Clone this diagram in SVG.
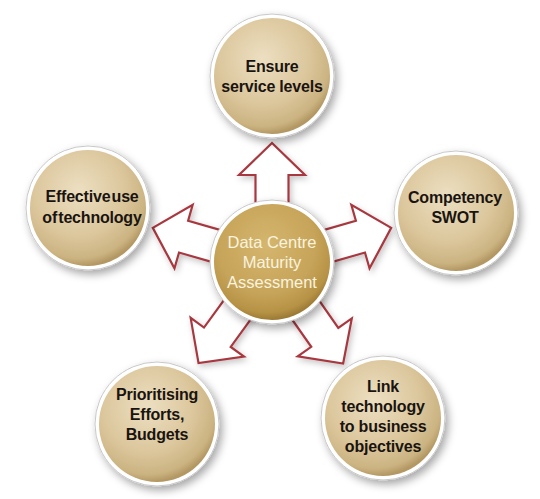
<svg xmlns="http://www.w3.org/2000/svg" width="540" height="499" viewBox="0 0 540 499">
<defs>
<radialGradient id="gOuter" cx="42%" cy="35%" r="65%">
<stop offset="0" stop-color="#ecdfc1"/>
<stop offset="0.6" stop-color="#dcc79d"/>
<stop offset="0.9" stop-color="#cbb381"/>
<stop offset="1" stop-color="#b39863"/>
</radialGradient>
<radialGradient id="gCenter" cx="45%" cy="35%" r="65%">
<stop offset="0" stop-color="#d5b66e"/>
<stop offset="0.65" stop-color="#c6a459"/>
<stop offset="0.9" stop-color="#b69245"/>
<stop offset="1" stop-color="#9b7a35"/>
</radialGradient>
<filter id="shadow" x="-30%" y="-30%" width="160%" height="160%">
<feDropShadow dx="3" dy="4" stdDeviation="4" flood-color="#000" flood-opacity="0.35"/>
</filter>
<filter id="ashadow" x="-30%" y="-30%" width="160%" height="160%">
<feDropShadow dx="2" dy="3" stdDeviation="3" flood-color="#000" flood-opacity="0.22"/>
</filter>
</defs>
<style>
.rim{fill:#ffffff;stroke:#c8c8c8;stroke-width:1}
.outer{fill:url(#gOuter)}
.center{fill:url(#gCenter)}
.arrow{fill:#ffffff;stroke:#a8383f;stroke-width:2.2;stroke-linejoin:miter}
.t{font-family:"Liberation Sans",Arial,sans-serif;font-size:16px;font-weight:bold;letter-spacing:-0.2px;fill:#1a1410;text-anchor:middle}
.tc{font-family:"Liberation Sans",Arial,sans-serif;font-size:16.5px;fill:#faf3df;text-anchor:middle}
</style>
<rect width="540" height="499" fill="#ffffff"/>
<g id="connectors" filter="url(#ashadow)">
<path class="arrow" transform="translate(272,262) rotate(-90)" d="M50,-16.5 L87,-16.5 L87,-33 L119,0 L87,33 L87,16.5 L50,16.5 Z"/>
<path class="arrow" transform="translate(272,262) rotate(-16)" d="M50,-16.5 L92,-16.5 L92,-33 L124,0 L92,33 L92,16.5 L50,16.5 Z"/>
<path class="arrow" transform="translate(272,262) rotate(55)" d="M50,-16.5 L92,-16.5 L92,-33 L124,0 L92,33 L92,16.5 L50,16.5 Z"/>
<path class="arrow" transform="translate(272,262) rotate(126)" d="M50,-16.5 L93,-16.5 L93,-33 L125,0 L93,33 L93,16.5 L50,16.5 Z"/>
<path class="arrow" transform="translate(272,262) rotate(196)" d="M50,-16.5 L92,-16.5 L92,-33 L124,0 L92,33 L92,16.5 L50,16.5 Z"/>
</g>
<g id="center-node">
<circle class="rim" cx="272" cy="262" r="62" filter="url(#shadow)"/>
<circle class="center" cx="272" cy="262" r="58"/>
<text class="tc" x="272" y="248">Data Centre</text>
<text class="tc" x="272" y="268">Maturity</text>
<text class="tc" x="272" y="288">Assessment</text>
</g>
<g id="node-top">
<circle class="rim" cx="272" cy="76" r="62" filter="url(#shadow)"/>
<circle class="outer" cx="272" cy="76" r="58"/>
<text class="t" x="272" y="72">Ensure</text>
<text class="t" x="272" y="92">service levels</text>
</g>
<g id="node-right">
<circle class="rim" cx="456" cy="213" r="62" filter="url(#shadow)"/>
<circle class="outer" cx="456" cy="213" r="58"/>
<text class="t" x="455" y="203">Competency</text>
<text class="t" x="455" y="223">SWOT</text>
</g>
<g id="node-left">
<circle class="rim" cx="88" cy="208" r="62" filter="url(#shadow)"/>
<circle class="outer" cx="88" cy="208" r="58"/>
<text class="t" x="92" y="202" word-spacing="-3">Effective use</text>
<text class="t" x="92" y="223" word-spacing="-3">of technology</text>
</g>
<g id="node-bottom-left">
<circle class="rim" cx="157" cy="424" r="62" filter="url(#shadow)"/>
<circle class="outer" cx="157" cy="424" r="58"/>
<text class="t" x="157" y="400">Prioritising</text>
<text class="t" x="157" y="420">Efforts,</text>
<text class="t" x="157" y="440">Budgets</text>
</g>
<g id="node-bottom-right">
<circle class="rim" cx="383" cy="418" r="62" filter="url(#shadow)"/>
<circle class="outer" cx="383" cy="418" r="58"/>
<text class="t" x="383" y="392">Link</text>
<text class="t" x="383" y="412">technology</text>
<text class="t" x="383" y="432">to business</text>
<text class="t" x="383" y="452">objectives</text>
</g>
</svg>
